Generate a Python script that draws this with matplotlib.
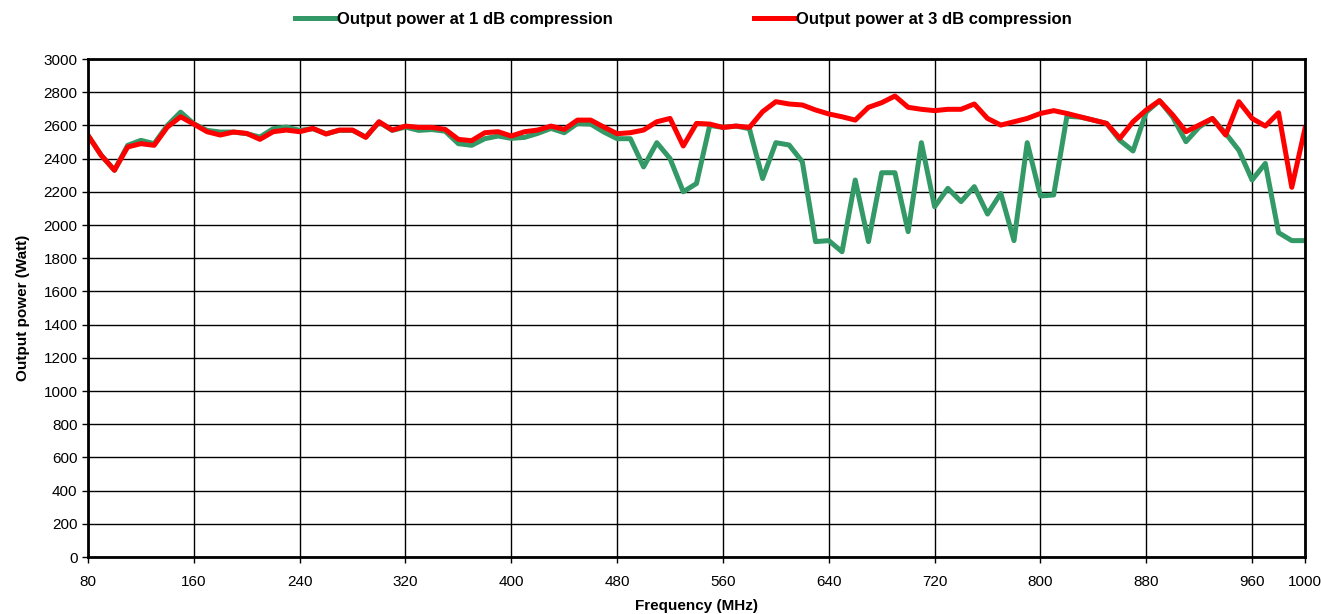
import numpy as np
import matplotlib
matplotlib.use('Agg')
import matplotlib.pyplot as plt

#Data
#--------------------------------
freq = list(range(80, 1001, 10))

p1db = [2540, 2420, 2330, 2480, 2510, 2490, 2600, 2680, 2610, 2570,
        2560, 2560, 2550, 2530, 2580, 2590, 2570, 2580, 2550, 2570,
        2570, 2530, 2620, 2570, 2590, 2570, 2575, 2565, 2490, 2480,
        2520, 2536, 2522, 2528, 2552, 2582, 2556, 2612, 2608, 2560,
        2520, 2520, 2350, 2496, 2400, 2200, 2250, 2600, 2588, 2596,
        2580, 2280, 2496, 2482, 2381, 1900, 1906, 1839, 2271, 1900,
        2315, 2315, 1960, 2496, 2110, 2221, 2141, 2231, 2066, 2191,
        1906, 2496, 2175, 2181, 2655, 2650, 2632, 2612, 2510, 2446,
        2680, 2749, 2650, 2502, 2590, 2642, 2552, 2450, 2271, 2371,
        1954, 1906, 1906]

p3db = [2540, 2420, 2330, 2470, 2490, 2480, 2590, 2652, 2608, 2562,
        2542, 2560, 2552, 2516, 2562, 2572, 2562, 2582, 2548, 2572,
        2572, 2528, 2622, 2572, 2596, 2588, 2588, 2576, 2516, 2508,
        2556, 2562, 2536, 2562, 2572, 2596, 2576, 2632, 2632, 2590,
        2550, 2556, 2572, 2622, 2642, 2476, 2612, 2608, 2588, 2596,
        2588, 2683, 2743, 2729, 2723, 2693, 2669, 2652, 2632, 2709,
        2737, 2777, 2709, 2697, 2689, 2697, 2697, 2729, 2642, 2602,
        2622, 2642, 2672, 2689, 2672, 2652, 2632, 2612, 2522, 2622,
        2693, 2749, 2663, 2562, 2602, 2642, 2542, 2743, 2642, 2596,
        2676, 2227, 2582]

xticks = [80, 160, 240, 320, 400, 480, 560, 640, 720, 800, 880, 960, 1000]
yticks = list(range(0, 3001, 200))
#--------------------------------

#Figure settings
plt.rcParams['font.family'] = ['Liberation Sans', 'DejaVu Sans']
size_axis = 11; size_ticks = 11; size_leg = 12
line_w = 3.6

fig = plt.figure(figsize=(13.21, 6.14), dpi=100)
ax = fig.add_axes([0.0666, 0.0928, 0.9213, 0.8111])

ax.plot(freq, p1db, color='#339966', lw=line_w, solid_joinstyle='round',
        label='Output power at 1 dB compression')
ax.plot(freq, p3db, color='#ff0000', lw=line_w, solid_joinstyle='round',
        label='Output power at 3 dB compression')

ax.set_xlim(80, 1000); ax.set_ylim(0, 3000)
ax.set_xticks(xticks)
ax.set_yticks(yticks)
ax.tick_params(axis='both', labelsize=size_ticks, direction='out', length=4,
               width=1, colors='black')
ax.tick_params(axis='x', pad=9)
ax.grid(True, color='black', lw=1, zorder=0)
ax.set_axisbelow(True)
for s in ax.spines.values():
    s.set_linewidth(2)

ax.set_xlabel('Frequency (MHz)', fontsize=size_axis, fontweight='bold', labelpad=7)
ax.set_ylabel('Output power (Watt)', fontsize=size_axis, fontweight='bold', labelpad=10)

fig.legend(loc='upper center', bbox_to_anchor=(0.5174, 1.005), ncol=2, frameon=False,
           prop={'weight': 'bold', 'size': size_leg}, handlelength=2.4,
           handletextpad=0.1, columnspacing=8.5)

plt.savefig('out.png', dpi=100)
